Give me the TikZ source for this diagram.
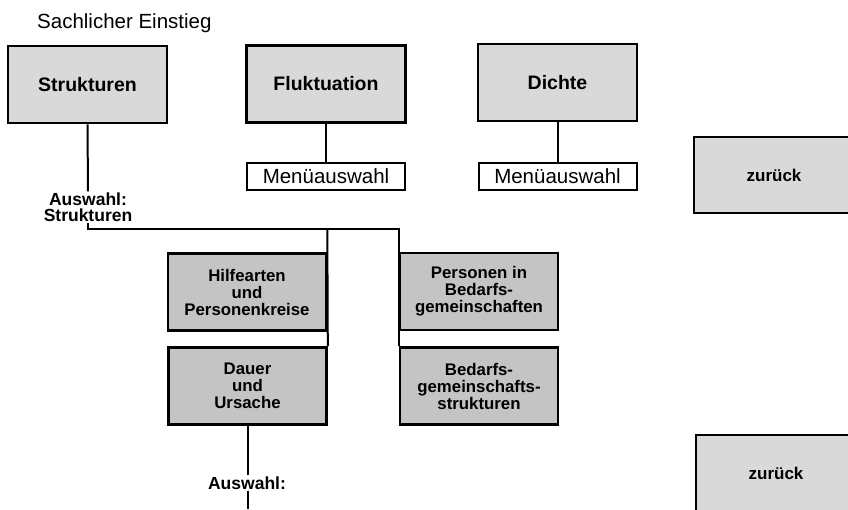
\documentclass[tikz,border=0pt]{standalone}
\usepackage{fontspec}
\setmainfont{Liberation Sans}

\begin{document}
\begin{tikzpicture}[x=1pt, y=-1pt,
    bigbox/.style={draw, line width=2.6pt, fill=black!15, minimum width=159pt, minimum height=77pt, font=\fontsize{19.5}{22}\selectfont\bfseries},
    subbox/.style={draw, line width=2.6pt, fill=black!23, minimum width=158pt, minimum height=77pt, align=center, inner sep=0pt, font=\fontsize{16.8}{17}\selectfont\bfseries},
    menubox/.style={draw, line width=2pt, fill=white, minimum width=158pt, minimum height=27pt, inner sep=0pt, font=\fontsize{20.5}{22}\selectfont},
    backbox/.style={draw, line width=2.8pt, fill=black!15, minimum width=160pt, minimum height=76pt, font=\fontsize{17}{20}\selectfont\bfseries},
    choice/.style={align=center, inner sep=1pt, font=\fontsize{17.5}{16}\selectfont\bfseries},
    conn/.style={line width=2pt}]
    \useasboundingbox (0,0) rectangle (848,509);
    \clip (0,0) rectangle (848,509);

    % title
    \node[anchor=west, inner sep=0pt, font=\fontsize{20.5}{22}\selectfont] (title) at (37,23) {Sachlicher Einstieg};

    % top row
    \node[bigbox] (struk) at (87.5,84.5) {Strukturen};
    \node[bigbox] (flukt) at (326,84) {Fluktuation};
    \node[bigbox] (dichte) at (557.5,82.5) {Dichte};
    \node[menubox] (menu1) at (326,176.5) {Menüauswahl};
    \node[menubox] (menu2) at (557.5,176) {Menüauswahl};
    \draw[conn] (flukt.south) -- (menu1.north);
    \draw[conn] (dichte.south) -- (menu2.north);

    % back buttons
    \node[backbox] (back1) at (774,175) {zurück};
    \node[backbox] (back2) at (776,473) {zurück};

    % choice structures
    \node[choice] (aw1) at (88,207) {Auswahl:\\Strukturen};
    \draw[conn] (struk.south) -- (aw1.north);
    \coordinate (rail) at (0,229);

    \node[subbox] (hilfe) at (247,292) {Hilfearten\\und\\Personenkreise};
    \node[subbox] (dauer) at (247.5,386) {Dauer\\und\\Ursache};
    \node[subbox] (pers) at (479,291.5) {Personen in\\Bedarfs-\\gemeinschaften};
    \node[subbox] (bedarf) at (479,386) {Bedarfs-\\gemeinschafts-\\strukturen};

    \draw[conn] (aw1.south) -- (aw1.south |- rail) -| (bedarf.north west);
    \draw[conn] (hilfe.north east |- rail) -- (dauer.north east);

    % next choice
    \node[choice] (aw2) at (247,483) {Auswahl:};
    \coordinate (bot) at (0,509);
    \draw[conn] (dauer.south) -- (dauer.south |- aw2.north);
    \draw[conn] (dauer.south |- aw2.south) -- (dauer.south |- bot);
\end{tikzpicture}
\end{document}
